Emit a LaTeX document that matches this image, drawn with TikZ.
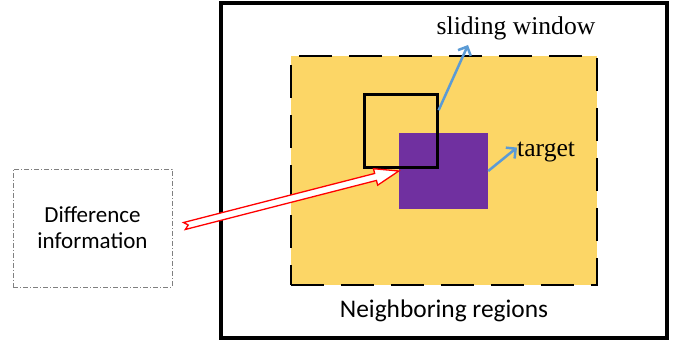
\documentclass[tikz,border=0pt]{standalone}
\usepackage{fontspec}
\setmainfont{Liberation Serif}
\newfontfamily\carlito{Carlito}
\usepackage{tikz}
\usetikzlibrary{arrows.meta, positioning, calc}
\definecolor{myyellow}{RGB}{252,214,102}
\definecolor{mypurple}{RGB}{112,48,160}
\definecolor{myblue}{RGB}{91,155,213}
\definecolor{myred}{RGB}{255,0,0}
\definecolor{mygray}{RGB}{128,128,128}
\tikzset{
  outerframe/.style={rectangle, draw=black, line width=4pt, inner sep=0pt},
  nbregion/.style={rectangle, draw=black, fill=myyellow, line width=2.5pt,
    dash pattern=on 33pt off 17pt, inner sep=0pt},
  slidewin/.style={rectangle, draw=black, line width=2.8pt,
    minimum size=73pt, inner sep=0pt},
  tgtbox/.style={rectangle, fill=mypurple, minimum width=89pt,
    minimum height=76pt, inner sep=0pt},
  infobox/.style={rectangle, draw=mygray, line width=0.8pt,
    dash pattern=on 5pt off 2pt on 1pt off 2pt, minimum width=159pt,
    minimum height=118pt, align=center,
    font=\carlito\fontsize{23}{26}\selectfont},
  serlabel/.style={font=\fontsize{25.6}{30}\selectfont, inner sep=0pt},
  sanslabel/.style={font=\carlito\fontsize{25.4}{30}\selectfont, inner sep=0pt},
  bluearrow/.style={-{Straight Barb[length=7pt,width=14pt]}, line width=2.5pt, color=myblue},
  hollowarrow/.style={draw=myred, fill=white, line width=1.3pt, line join=miter}
}

\begin{document}
\begin{tikzpicture}[x=1pt, y=-1pt]
  \useasboundingbox (0,0) rectangle (681,347);

  % Outer frame and neighboring regions
  \node[outerframe, minimum width=446.5pt, minimum height=335pt] (frame) at (443.75,170.5) {};
  \node[nbregion, minimum width=306pt, minimum height=229pt] (region) at (444,170.5) {};
  \node[sanslabel, anchor=base] (nblab) at (444,318) {Neighboring regions};

  % Target and sliding window
  \node[tgtbox] (target) at (443.5,171) {};
  \node[slidewin] (win) at (400.7,130.7) {};
  \node[serlabel, anchor=base] (swlab) at (516,35) {sliding window};
  \node[serlabel, anchor=base west] (tglab) at (517,157) {target};
  \coordinate (swend) at (468,45);
  \draw[bluearrow] ($(win.north east)!0.23!(win.south east)$) -- (swend);
  \draw[bluearrow] (target.east) -- ($(tglab.west)+(0,-5)$);

  % Difference information
  \node[infobox] (diff) at (92.5,228) {Difference\\information};
  \coordinate (rtail) at ($(diff.east)+(12,-2)$);
  \coordinate (rtip) at (target.west);
  \coordinate (rhead) at ($(rtip)!24pt!(rtail)$);
  \draw[hollowarrow] ($(rtail)!3.6pt!90:(rtip)$) -- ($(rhead)!3.6pt!90:(rtip)$)
    -- ($(rhead)!8.5pt!90:(rtip)$) -- (rtip) -- ($(rhead)!8.5pt!-90:(rtip)$)
    -- ($(rhead)!3.6pt!-90:(rtip)$) -- ($(rtail)!3.6pt!-90:(rtip)$)
    -- ($(rtail)!4pt!(rtip)$) -- cycle;
\end{tikzpicture}
\end{document}
